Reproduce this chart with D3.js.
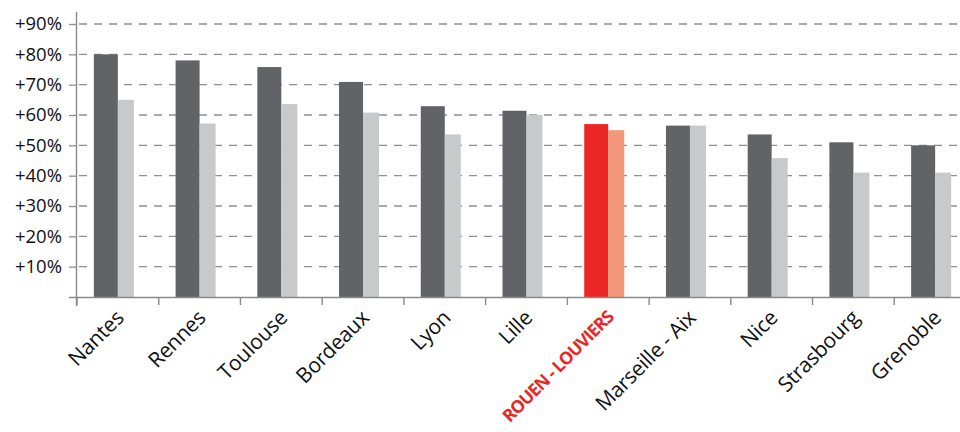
<!DOCTYPE html>
<html><head><meta charset="utf-8">
<script src="https://cdn.jsdelivr.net/npm/d3@7"></script>
<style>body{margin:0;background:#fff}svg{display:block}text{font-family:"Open Sans",sans-serif}</style>
</head><body>
<svg id="c" width="960" height="432"></svg>
<script>
const categories = ["Nantes","Rennes","Toulouse","Bordeaux","Lyon","Lille","ROUEN - LOUVIERS","Marseille - Aix","Nice","Strasbourg","Grenoble"];
const seriesA = [80, 78, 75.8, 70.9, 62.9, 61.4, 57, 56.5, 53.6, 51, 50];
const seriesB = [65, 57.2, 63.6, 60.8, 53.6, 60, 55, 56.5, 45.8, 41, 41];
const yTicks = [10,20,30,40,50,60,70,80,90];
const highlight = "ROUEN - LOUVIERS";

const svg = d3.select("#c");
const x = d3.scaleBand().domain(categories).range([77, 976]).paddingInner(0).paddingOuter(0);
const y = d3.scaleLinear().domain([0, 90]).range([297, 24]);

// gridlines
svg.append("g").selectAll("line").data(yTicks).join("line")
  .attr("x1", 77).attr("x2", 960)
  .attr("y1", d => y(d)).attr("y2", d => y(d))
  .attr("stroke", "#8f8f8f").attr("stroke-width", 1.3)
  .attr("stroke-dasharray", "8,7").attr("stroke-dashoffset", -2);

// y axis
const yAxis = d3.axisLeft(y).tickValues(yTicks).tickSize(8).tickPadding(7)
  .tickFormat(d => "+" + d + "%");
const gy = svg.append("g").attr("transform", "translate(77,0)").call(yAxis);
gy.select(".domain").remove();
gy.selectAll(".tick line").attr("stroke", "#8f8f8f").attr("stroke-width", 1.3);
gy.selectAll(".tick text").attr("font-size", 18.5).attr("fill", "#111");
svg.append("line").attr("x1", 76.5).attr("x2", 76.5).attr("y1", 12).attr("y2", 306)
  .attr("stroke", "#8a8a8a").attr("stroke-width", 1.4);

// bars
const bw = x.bandwidth();
const g = svg.append("g");
g.selectAll("rect.a").data(categories).join("rect").attr("class","a")
  .attr("x", d => x(d) + bw/2 - 24).attr("width", 24)
  .attr("y", (d,i) => y(seriesA[i])).attr("height", (d,i) => y(0) - y(seriesA[i]))
  .attr("fill", d => d === highlight ? "#ec2625" : "#626366");
g.selectAll("rect.b").data(categories).join("rect").attr("class","b")
  .attr("x", d => x(d) + bw/2).attr("width", 16)
  .attr("y", (d,i) => y(seriesB[i])).attr("height", (d,i) => y(0) - y(seriesB[i]))
  .attr("fill", d => d === highlight ? "#f4967a" : "#c8c9cb");

// x axis
const xAxis = d3.axisBottom(x).tickSize(0).tickPadding(0);
const gx = svg.append("g").attr("transform", "translate(0,297)").call(xAxis);
gx.select(".domain").remove();
svg.append("line").attr("x1", 69).attr("x2", 960).attr("y1", 297.5).attr("y2", 297.5)
  .attr("stroke", "#8a8a8a").attr("stroke-width", 1.4);
const bounds = categories.map(c => x(c));
svg.append("g").selectAll("line").data(bounds).join("line")
  .attr("x1", d => d).attr("x2", d => d).attr("y1", 297).attr("y2", 305)
  .attr("stroke", "#8a8a8a").attr("stroke-width", 1.4);
gx.selectAll(".tick text")
  .attr("font-size", d => d === highlight ? 17.5 : 21)
  .attr("fill", d => d === highlight ? "#ec2625" : "#111")
  .attr("font-weight", d => d === highlight ? 700 : 400)
  .attr("letter-spacing", d => d === highlight ? "-0.9px" : "-0.3px")
  .attr("text-anchor", "end")
  .attr("dy", "0.35em")
  .attr("transform", "translate(2,17) rotate(-45)");
</script>
</body></html>
